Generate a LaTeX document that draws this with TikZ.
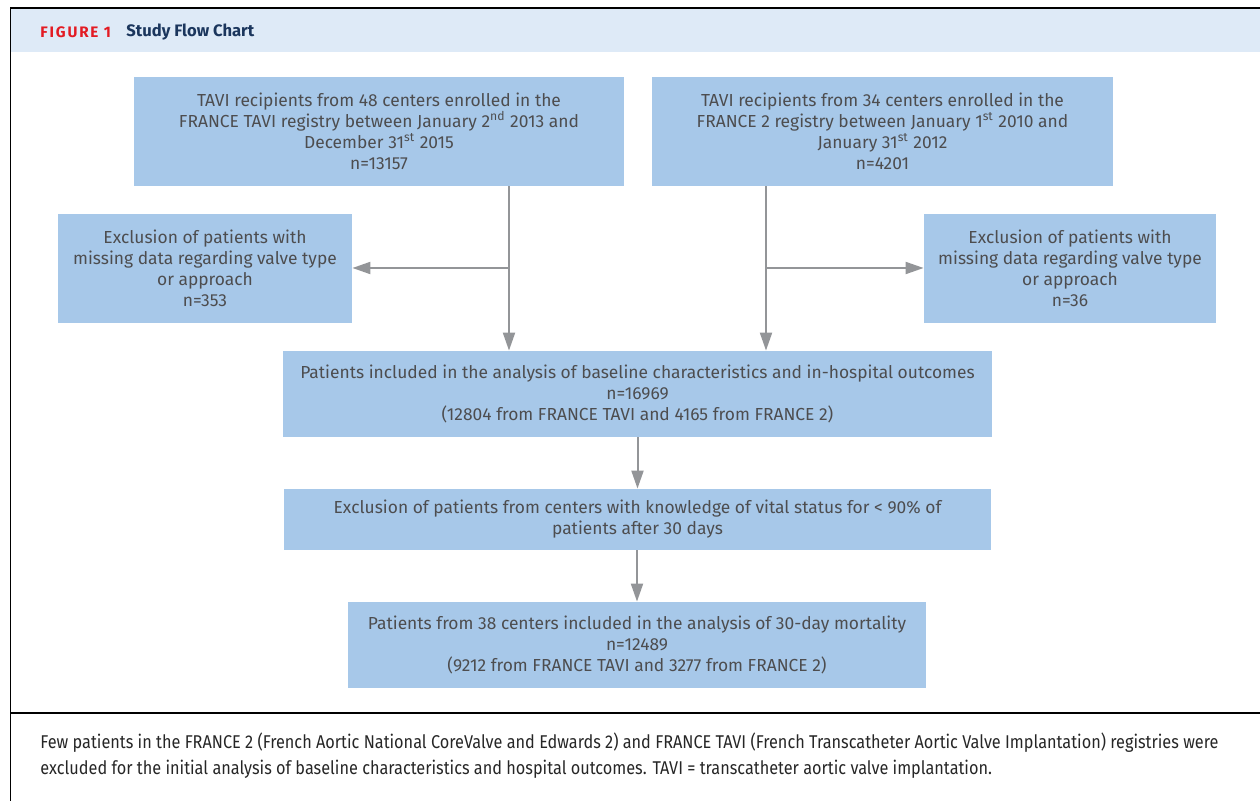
\documentclass[tikz,border=0pt]{standalone}
\usepackage{fontspec}
\setmainfont{Fira Sans}
\newfontfamily\capfont[FakeStretch=0.88]{Fira Sans}
\usepackage{xcolor}
\usetikzlibrary{arrows.meta}

\definecolor{boxblue}{HTML}{A7C8E9}
\definecolor{headblue}{HTML}{DEEAF7}
\definecolor{arrowgray}{HTML}{939598}
\definecolor{txtgray}{HTML}{4D4D4F}
\definecolor{figred}{HTML}{E31B23}
\definecolor{navy}{HTML}{1B365D}

\tikzset{
  flowbox/.style={fill=boxblue, text=txtgray, align=center, inner sep=0pt,
    font=\fontsize{8.7}{10.5}\selectfont},
  flowarrow/.style={draw=arrowgray, line width=1pt, -{Triangle[width=6pt,length=9pt]}},
  flowline/.style={draw=arrowgray, line width=1pt},
}

\begin{document}
\begin{tikzpicture}[x=0.5pt,y=-0.5pt]
\useasboundingbox (0,0) rectangle (1260,801);

% frame and header
\fill[headblue] (11,9) rectangle (1260,52);
\draw[line width=1.2pt] (10,8) -- (1260,8);
\draw[line width=0.5pt] (10,8) -- (10,801);
\draw[line width=0.7pt] (10,713) -- (1260,713);
\node[anchor=west, inner sep=0pt, text=figred, font=\fontsize{7.6}{8}\selectfont\bfseries\addfontfeature{LetterSpace=12}] (figno) at (40,32) {FIGURE 1};
\node[anchor=west, inner sep=0pt, text=navy, font=\fontsize{8.3}{9}\selectfont\bfseries] (figtitle) at (126,32) {Study Flow Chart};

% boxes
\node[flowbox, minimum width=245pt, minimum height=54.5pt] (A) at (379,131.5)
  {TAVI recipients from 48 centers enrolled in the\\
   FRANCE TAVI registry between January 2\textsuperscript{nd} 2013 and\\
   December 31\textsuperscript{st} 2015\\ n=13157};
\node[flowbox, minimum width=230.5pt, minimum height=54.5pt] (B) at (882.5,131.5)
  {TAVI recipients from 34 centers enrolled in the\\
   FRANCE 2 registry between January 1\textsuperscript{st} 2010 and\\
   January 31\textsuperscript{st} 2012\\ n=4201};
\node[flowbox, minimum width=147pt, minimum height=54.5pt] (C) at (205,268.5)
  {Exclusion of patients with\\ missing data regarding valve type\\ or approach\\ n=353};
\node[flowbox, minimum width=146pt, minimum height=54.5pt] (D) at (1070,268.5)
  {Exclusion of patients with\\ missing data regarding valve type\\ or approach\\ n=36};
\node[flowbox, minimum width=354.5pt, minimum height=43pt] (E) at (637.5,394)
  {Patients included in the analysis of baseline characteristics and in-hospital outcomes\\
   n=16969\\ (12804 from FRANCE TAVI and 4165 from FRANCE 2)};
\node[flowbox, minimum width=353.5pt, minimum height=30.5pt] (F) at (637.5,519.5)
  {Exclusion of patients from centers with knowledge of vital status for < 90\% of\\
   patients after 30 days};
\node[flowbox, minimum width=289pt, minimum height=43pt] (G) at (637,645)
  {Patients from 38 centers included in the analysis of 30-day mortality\\
   n=12489\\ (9212 from FRANCE TAVI and 3277 from FRANCE 2)};

% connectors
\coordinate (splitA) at (509,268);
\coordinate (splitB) at (766,268);
\draw[flowarrow] (A.south -| splitA) -- (E.north -| splitA);
\draw[flowarrow] (splitA) -- (C.east |- splitA);
\draw[flowarrow] (B.south -| splitB) -- (E.north -| splitB);
\draw[flowarrow] (splitB) -- (D.west |- splitB);
\draw[flowarrow] (E.south) -- (F.north -| E.south);
\draw[flowarrow] (F.south -| G.north) -- (G.north);

% caption
\node[anchor=west, inner sep=0pt, align=left, text=black!85,
  font=\capfont\fontsize{9.25}{13}\selectfont] (caption) at (40,756)
  {Few patients in the FRANCE 2 (French Aortic National CoreValve and Edwards 2) and FRANCE TAVI (French Transcatheter Aortic Valve Implantation) registries were\\
   excluded for the initial analysis of baseline characteristics and hospital outcomes. TAVI = transcatheter aortic valve implantation.};
\end{tikzpicture}
\end{document}
